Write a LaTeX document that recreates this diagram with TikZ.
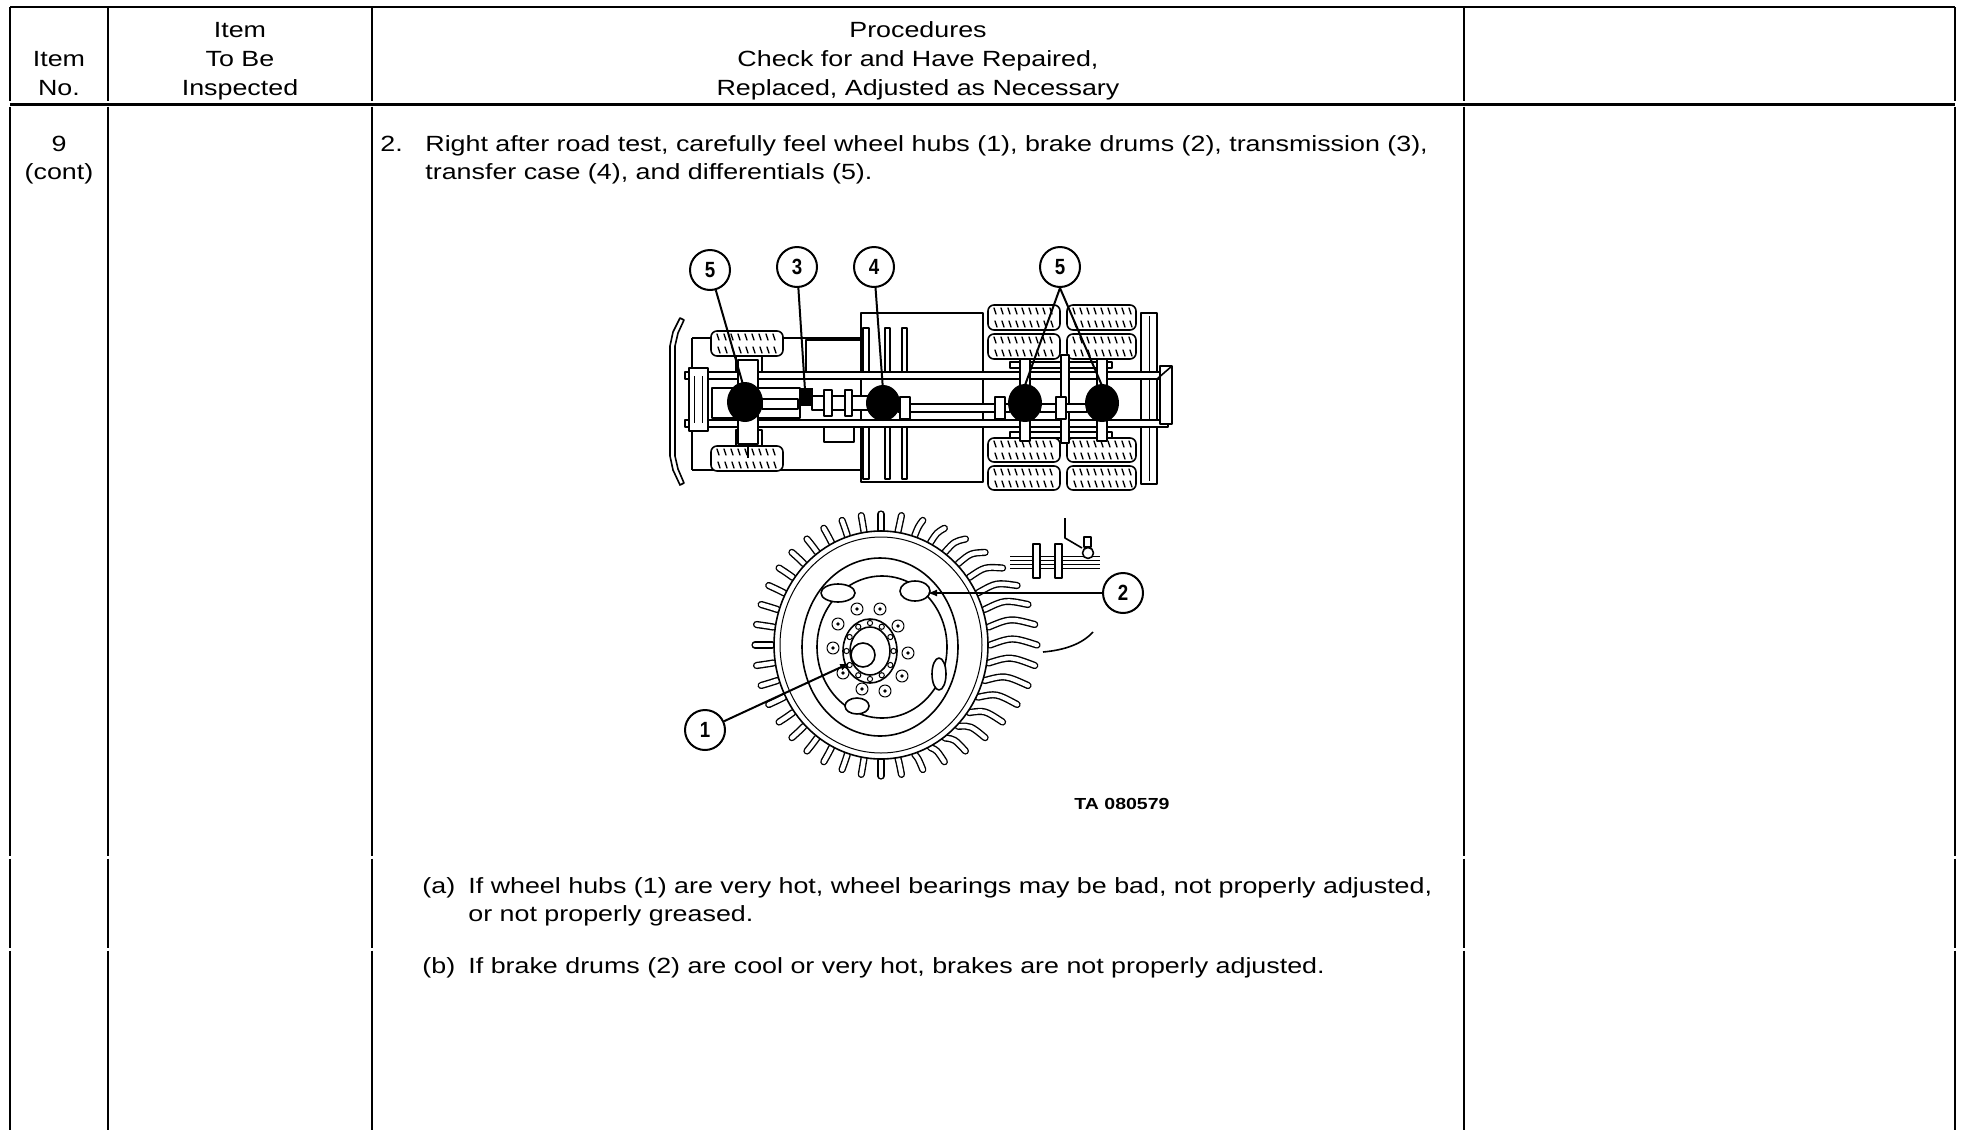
\documentclass[tikz,border=0pt]{standalone}
\usepackage{fontspec}
\setmainfont{Liberation Sans}[FakeStretch=1.22]
\newfontfamily\callfont{Liberation Sans}[FakeStretch=0.85]
\usetikzlibrary{arrows.meta}
\tikzset{
  rule/.style={line width=1pt},
  hdrule/.style={line width=1.75pt},
  txt/.style={inner sep=0pt, anchor=base west, font=\fontsize{11}{13}\selectfont},
  ctxt/.style={inner sep=0pt, anchor=base, font=\fontsize{11}{13}\selectfont},
  ink/.style={line width=0.8pt},
  thinink/.style={line width=0.5pt},
  callout/.style={circle, draw, line width=1pt, minimum size=20pt, inner sep=0pt, fill=white, font=\callfont\bfseries\fontsize{11}{12}\selectfont},
  leader/.style={line width=1pt},
  arrowleader/.style={line width=1pt, -{Latex[length=5pt,width=3.5pt]}},
  lug/.style={line width=0.7pt, double=white, double distance=2.2pt, line cap=round},
  tread/.style={line width=0.7pt, line cap=round},
  tirebox/.style={draw, line width=0.8pt, rounded corners=3pt, fill=white},
}
\begin{document}
\begin{tikzpicture}[x=0.5pt, y=-0.5pt, line join=round]
\useasboundingbox (0,0) rectangle (1961,1130);

% ---------------- table rules ----------------
\draw[rule] (10,7) -- (1955,7);
\foreach \x in {10,108,372,1464,1955}{
  \draw[rule] (\x,7) -- (\x,101);
  \draw[rule] (\x,106.5) -- (\x,856);
  \draw[rule] (\x,858.5) -- (\x,948);
  \draw[rule] (\x,950.5) -- (\x,1130);
}
\draw[hdrule] (10,104.5) -- (1955,104.5);

% ---------------- header ----------------
\node[ctxt] (h0b) at (59,66) {Item};
\node[ctxt] (h0c) at (59,95) {No.};
\node[ctxt] (h1a) at (240,37) {Item};
\node[ctxt] (h1b) at (240,66) {To Be};
\node[ctxt] (h1c) at (240,95) {Inspected};
\node[ctxt] (h2a) at (918,37) {Procedures};
\node[ctxt] (h2b) at (918,66) {Check for and Have Repaired,};
\node[ctxt] (h2c) at (918,95) {Replaced, Adjusted as Necessary};

% ---------------- body text ----------------
\node[ctxt] (n9) at (59,151) {9};
\node[ctxt] (ncont) at (59,179) {(cont)};
\node[txt] (p2num) at (380,151) {2.};
\node[txt] (p2a) at (425,151) {Right after road test, carefully feel wheel hubs (1), brake drums (2), transmission (3),};
\node[txt] (p2b) at (425,179) {transfer case (4), and differentials (5).};
\node[txt] (palab) at (422,893) {(a)};
\node[txt] (pa1) at (468,893) {If wheel hubs (1) are very hot, wheel bearings may be bad, not properly adjusted,};
\node[txt] (pa2) at (468,921) {or not properly greased.};
\node[txt] (pblab) at (422,973) {(b)};
\node[txt] (pb1) at (468,973) {If brake drums (2) are cool or very hot, brakes are not properly adjusted.};

% ================= truck (top view) =================
% bumper
\draw[ink, fill=white] (680,318) -- (673,332) -- (670,346) -- (670,456) -- (673,470) -- (680,485) -- (684,483) -- (678,469) -- (675,456) -- (675,346) -- (678,333) -- (684,320) -- cycle;
% front body / cab outline
\draw[ink] (692,338) -- (861,338);
\draw[ink] (692,470) -- (861,470);
\draw[ink] (692,338) -- (692,470);
\draw[ink] (806,340) rectangle (861,373);
\draw[ink] (824,425) rectangle (854,442);
% cargo body
\draw[ink] (861,313) rectangle (983,482);
\foreach \xa/\xb in {863/869, 885/890, 902/907}{
  \draw[ink, fill=white] (\xa,328) rectangle (\xb,377);
  \draw[ink, fill=white] (\xa,421) rectangle (\xb,479);
}
% rear vertical bar
\draw[ink, fill=white] (1141,313) rectangle (1157,484);
\draw[thinink] (1149,316) -- (1149,481);
% tires
\foreach \xa/\ya/\xb/\yb in {711/331/783/356, 711/446/783/471,
    988/305/1060/330, 988/334/1060/359, 1067/305/1136/330, 1067/334/1136/359,
    988/438/1060/462, 988/466/1060/490, 1067/438/1136/462, 1067/466/1136/490}{
  \draw[tirebox] (\xa,\ya) rectangle (\xb,\yb);
  \pgfmathsetmacro\xs{\xa+6}
  \pgfmathsetmacro\xn{\xa+13}
  \pgfmathsetmacro\xe{\xb-6}
  \foreach \x in {\xs,\xn,...,\xe}{
    \draw[tread] (\x,\ya+3) -- (\x+2,\ya+9);
    \draw[tread] (\x+3,\yb-3) -- (\x+1,\yb-9);
  }
}
% front hubs / steering
\draw[ink, fill=white] (736,356) rectangle (762,373);
\draw[ink, fill=white] (736,430) rectangle (762,446);
\draw[ink] (748,446) -- (748,458);
% frame rails
\draw[ink, fill=white] (685,372) rectangle (1168,379);
\draw[ink, fill=white] (685,420) rectangle (1168,427);
% front crossmember / radiator
\draw[ink, fill=white] (689,368) rectangle (708,431);
\draw[thinink] (694,376) -- (694,423);
\draw[thinink] (702,376) -- (702,423);
% rear bracket
\draw[ink, fill=white] (1160,366) rectangle (1172,424);
\draw[ink] (1157,379) -- (1172,366);
% front axle area
\draw[ink] (712,388) rectangle (800,418);
\draw[ink, fill=white] (738,360) rectangle (758,444);
% rear axles and equalizers
\draw[ink, fill=white] (1010,362) rectangle (1112,368);
\draw[ink, fill=white] (1010,432) rectangle (1112,438);
\draw[ink, fill=white] (1020,359) rectangle (1030,441);
\draw[ink, fill=white] (1097,359) rectangle (1107,441);
\draw[ink, fill=white] (1061,355) rectangle (1069,443);
% drive shafts
\draw[ink, fill=white] (812,396) rectangle (868,410);
\draw[ink, fill=white] (824,390) rectangle (832,416);
\draw[ink, fill=white] (845,390) rectangle (852,416);
\draw[ink, fill=white] (898,404) rectangle (1010,412);
\draw[ink, fill=white] (900,397) rectangle (910,419);
\draw[ink, fill=white] (995,397) rectangle (1005,419);
\draw[ink, fill=white] (1040,404) rectangle (1087,412);
\draw[ink, fill=white] (1056,397) rectangle (1066,419);
\draw[ink, fill=white] (762,399) rectangle (798,409);
% black components
\fill (745,402) ellipse [x radius=18, y radius=20];
\fill (799,388) rectangle (813,406);
\fill (883,403) ellipse [x radius=17, y radius=18];
\fill (1025,403) ellipse [x radius=17, y radius=19];
\fill (1102,403) ellipse [x radius=17, y radius=19];
% callouts
\node[callout] (c5a) at (710,270) {5};
\node[callout] (c3) at (797,267) {3};
\node[callout] (c4) at (874,267) {4};
\node[callout] (c5b) at (1060,267) {5};
\coordinate (d5a) at (744,388);
\coordinate (d3) at (805,390);
\coordinate (d4) at (883,390);
\coordinate (d5b) at (1024,388);
\coordinate (d5c) at (1103,388);
\draw[leader] (c5a) -- (d5a);
\draw[leader] (c3) -- (d3);
\draw[leader] (c4) -- (d4);
\draw[leader] (c5b.south) -- (d5b);
\draw[leader] (c5b.south) -- (d5c);

% ================= wheel =================
% spring and shackle
\draw[ink] (1065,518) -- (1065,538) -- (1082,548);
\draw[thinink] (1010,556) -- (1100,556);
\draw[thinink] (1010,560) -- (1100,560);
\draw[thinink] (1010,564) -- (1100,564);
\draw[thinink] (1010,568) -- (1100,568);
\draw[ink, fill=white] (1033,544) rectangle (1040,578);
\draw[ink, fill=white] (1055,544) rectangle (1062,578);
\draw[ink, fill=white] (1084,537) rectangle (1091,547);
\draw[ink, fill=white] (1088,553) circle [radius=5.5];
\draw[ink] (1043,652) .. controls (1065,650) and (1082,644) .. (1093,632);
% tread lugs (long ones on the tread side, short ones on the face)
\foreach \a in {0,9,...,351}{
  \pgfmathsetmacro\ca{cos(\a)}
  \pgfmathsetmacro\sa{sin(\a)}
  \pgfmathsetmacro\ext{max(30*\ca,0)}
  \pgfmathsetmacro\bend{max(8*\ca,0)}
  \draw[lug] ({881+109*\ca},{645+115*\sa})
     .. controls ({881+(116+\ext/2)*\ca},{645+122*\sa-\bend}) ..
     ({881+(126+\ext)*\ca},{645+131*\sa});
}
% tire face and rim
\draw[ink, fill=white] (881,645) ellipse [x radius=107, y radius=114];
\draw[thinink] (881,645) ellipse [x radius=101, y radius=108];
\draw[ink] (880,647) ellipse [x radius=78, y radius=89];
\draw[ink] (882,647) ellipse [x radius=65, y radius=71];
% vent openings
\draw[ink, fill=white] (838,593) ellipse [x radius=17, y radius=9];
\draw[ink, fill=white] (915,591) ellipse [x radius=15, y radius=10];
\draw[ink, fill=white] (939,674) ellipse [x radius=7, y radius=16];
\draw[ink, fill=white] (857,706) ellipse [x radius=12, y radius=8];
% bolts
\foreach \bx/\by in {857/609, 880/609, 898/626, 908/653, 902/676, 885/691, 862/689, 843/673, 833/648, 838/624}{
  \draw[thinink, fill=white] (\bx,\by) circle [radius=6];
  \fill (\bx,\by) circle [radius=1.8];
}
% hub
\draw[ink, fill=white] (870,651) ellipse [x radius=27, y radius=32];
\draw[ink] (870,651) ellipse [x radius=20, y radius=24];
\foreach \a in {0,30,...,330}{
  \draw[thinink, fill=white] ({870+23.5*cos(\a)},{651+28*sin(\a)}) circle [radius=2.6];
}
\draw[ink, fill=white] (863,655) circle [radius=12];
% callouts
\node[callout] (c2) at (1123,593) {2};
\node[callout] (c1) at (705,730) {1};
\coordinate (t2) at (927,593);
\coordinate (t1) at (850,663);
\draw[arrowleader] (c2) -- (t2);
\draw[arrowleader] (c1) -- (t1);
\node[inner sep=0pt, anchor=base, font=\bfseries\fontsize{8}{9}\selectfont] (ta) at (1122,809) {TA 080579};
\end{tikzpicture}
\end{document}
